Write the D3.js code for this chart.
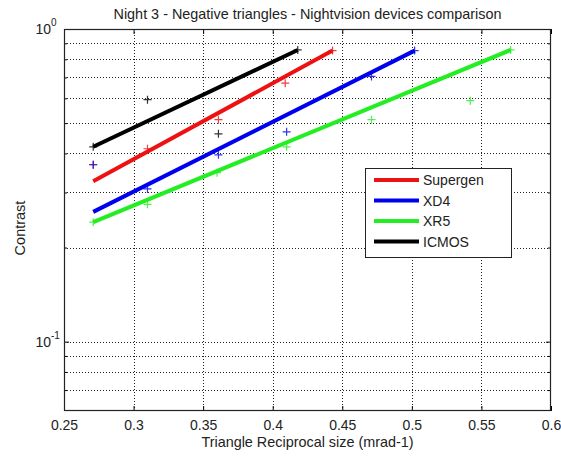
<!DOCTYPE html>
<html>
<head>
<meta charset="utf-8">
<script src="https://cdn.jsdelivr.net/npm/d3@7"></script>
<style>
  body { margin: 0; background: #fff; }
  svg { display: block; font-family: "Liberation Sans", Arial, sans-serif; }
</style>
</head>
<body>
<div id="main-container"></div>
<script>
const WIDTH = 561;
const HEIGHT = 457;
const LEFT = 64, RIGHT = 551, TOP = 29, BOTTOM = 411;
const TITLE = 'Night 3 - Negative triangles - Nightvision devices comparison';
const X_LABEL = 'Triangle Reciprocal size (mrad-1)';
const Y_LABEL = 'Contrast';

// tick values
const X_TICKS = [0.25, 0.3, 0.35, 0.4, 0.45, 0.5, 0.55, 0.6];
const X_TICK_LABELS = ['0.25', '0.3', '0.35', '0.4', '0.45', '0.5', '0.55', '0.6'];
const Y_MAJOR = [0.1, 1];
const Y_MINOR = [0.07, 0.08, 0.09, 0.2, 0.3, 0.4, 0.5, 0.6, 0.7, 0.8, 0.9];

// series
const SERIES = ['Supergen', 'XD4', 'XR5', 'ICMOS'];
const COLORS = ['#ee1111', '#0000ee', '#22ee22', '#000000'];

// fitted lines: [x, contrast] start and end
const SUPERGEN_FIT = [[0.271, 0.326], [0.443, 0.853]];
const XD4_FIT = [[0.271, 0.260], [0.502, 0.853]];
const XR5_FIT = [[0.271, 0.241], [0.571, 0.857]];
const ICMOS_FIT = [[0.271, 0.420], [0.418, 0.857]];

// measured points
const SUPERGEN_PTS = [[0.271, 0.368], [0.31, 0.414], [0.361, 0.513], [0.409, 0.671], [0.443, 0.853]];
const XD4_PTS = [[0.271, 0.368], [0.31, 0.308], [0.361, 0.396], [0.41, 0.469], [0.471, 0.705], [0.502, 0.853]];
const XR5_PTS = [[0.271, 0.241], [0.31, 0.275], [0.36, 0.347], [0.41, 0.420], [0.471, 0.513], [0.542, 0.590], [0.571, 0.857]];
const ICMOS_PTS = [[0.271, 0.420], [0.31, 0.594], [0.361, 0.462], [0.418, 0.857]];

const FITS = [SUPERGEN_FIT, XD4_FIT, XR5_FIT, ICMOS_FIT];
const POINTS = [SUPERGEN_PTS, XD4_PTS, XR5_PTS, ICMOS_PTS];

const X_SCALE = d3.scaleLinear().domain([0.25, 0.6]).range([LEFT, RIGHT]);
const Y_SCALE = d3.scaleLog().domain([0.06, 1]).range([BOTTOM, TOP]);

const SVG = d3.select('#main-container')
    .append('svg')
    .attr('width', WIDTH)
    .attr('height', HEIGHT);

// plot background
SVG.append('rect')
    .attr('x', LEFT).attr('y', TOP)
    .attr('width', RIGHT - LEFT).attr('height', BOTTOM - TOP)
    .attr('fill', '#fff');

// grid
const GRID = SVG.append('g')
    .attr('stroke', '#222')
    .attr('stroke-width', 1)
    .attr('stroke-dasharray', '1,2');

GRID.selectAll('line.gx')
    .data(X_TICKS.slice(1, -1))
    .enter()
    .append('line')
    .attr('x1', d => Math.round(X_SCALE(d)) + 0.5)
    .attr('x2', d => Math.round(X_SCALE(d)) + 0.5)
    .attr('y1', TOP)
    .attr('y2', BOTTOM);

GRID.selectAll('line.gy')
    .data(Y_MAJOR.concat(Y_MINOR).filter(d => d < 1))
    .enter()
    .append('line')
    .attr('x1', LEFT)
    .attr('x2', RIGHT)
    .attr('y1', d => Math.round(Y_SCALE(d)) + 0.5)
    .attr('y2', d => Math.round(Y_SCALE(d)) + 0.5);

// x axes (bottom + top), ticks inside
const X_AXIS = d3.axisBottom(X_SCALE)
    .tickValues(X_TICKS)
    .tickFormat((d, i) => X_TICK_LABELS[i])
    .tickSize(-5)
    .tickPadding(9);

const xg = SVG.append('g')
    .attr('transform', `translate(0, ${BOTTOM})`)
    .call(X_AXIS);
xg.select('.domain').remove();
xg.selectAll('text').style('font-size', '14px').attr('fill', '#222');

const xgTop = SVG.append('g')
    .attr('transform', `translate(0, ${TOP})`)
    .call(d3.axisTop(X_SCALE).tickValues(X_TICKS).tickSize(-5).tickFormat(''));
xgTop.select('.domain').remove();

// y axes (left + right), major and minor ticks
const addY = (side, values, size) => {
    const axis = (side === 'left' ? d3.axisLeft(Y_SCALE) : d3.axisRight(Y_SCALE))
        .tickValues(values)
        .tickSize(-size)
        .tickFormat('');
    const g = SVG.append('g')
        .attr('transform', `translate(${side === 'left' ? LEFT : RIGHT}, 0)`)
        .call(axis);
    g.select('.domain').remove();
    return g;
};
addY('left', Y_MAJOR, 5);
addY('right', Y_MAJOR, 5);
addY('left', Y_MINOR, 3);
addY('right', Y_MINOR, 3);

// y tick labels as 10^n
const YL = SVG.append('g').attr('fill', '#222');
Y_MAJOR.forEach(v => {
    const yy = Y_SCALE(v);
    YL.append('text')
        .attr('x', 51)
        .attr('y', yy + 5)
        .attr('text-anchor', 'end')
        .style('font-size', '14px')
        .text('10');
    YL.append('text')
        .attr('x', 51)
        .attr('y', yy - 3)
        .style('font-size', '10px')
        .text(String(Math.round(Math.log10(v))));
});

// box
SVG.append('rect')
    .attr('x', LEFT + 0.5).attr('y', TOP + 0.5)
    .attr('width', RIGHT - LEFT - 1).attr('height', BOTTOM - TOP - 1)
    .attr('fill', 'none')
    .attr('stroke', '#222')
    .attr('stroke-width', 1.2);

// fitted lines
const LINE = d3.line()
    .x(d => X_SCALE(d[0]))
    .y(d => Y_SCALE(d[1]));

SVG.append('g')
    .selectAll('path')
    .data(FITS)
    .enter()
    .append('path')
    .attr('d', LINE)
    .attr('fill', 'none')
    .attr('stroke', (_, i) => COLORS[i])
    .attr('stroke-width', 4);

// '+' markers
const MARK = 4;
POINTS.forEach((pts, i) => {
    const g = SVG.append('g')
        .attr('stroke', COLORS[i])
        .attr('stroke-width', 1.2)
        .attr('opacity', 0.8);
    g.selectAll('path')
        .data(pts)
        .enter()
        .append('path')
        .attr('d', d => {
            const cx = X_SCALE(d[0]), cy = Y_SCALE(d[1]);
            return `M${cx - MARK},${cy}H${cx + MARK}M${cx},${cy - MARK}V${cy + MARK}`;
        });
});

// legend
const LEGEND = SVG.append('g').attr('transform', 'translate(365, 168)');
LEGEND.append('rect')
    .attr('x', 0.5).attr('y', 0.5)
    .attr('width', 146).attr('height', 89)
    .attr('fill', '#fff')
    .attr('stroke', '#222');

const rows = LEGEND.selectAll('g.row')
    .data(SERIES)
    .enter()
    .append('g')
    .attr('transform', (_, i) => `translate(0, ${12 + i * 20.5})`);
rows.append('line')
    .attr('x1', 9).attr('x2', 54)
    .attr('stroke', (_, i) => COLORS[i])
    .attr('stroke-width', 4);
rows.append('text')
    .attr('x', 58)
    .attr('y', 5)
    .style('font-size', '14px')
    .attr('fill', '#222')
    .text(d => d);

// title
SVG.append('text')
    .attr('x', (LEFT + RIGHT) / 2)
    .attr('y', 19)
    .attr('text-anchor', 'middle')
    .style('font-size', '14.4px')
    .attr('fill', '#222')
    .text(TITLE);

// axis labels
SVG.append('text')
    .attr('x', (LEFT + RIGHT) / 2)
    .attr('y', 447)
    .attr('text-anchor', 'middle')
    .style('font-size', '14.4px')
    .attr('fill', '#222')
    .text(X_LABEL);

SVG.append('text')
    .attr('transform', `translate(25, ${(TOP + BOTTOM) / 2 + 8}) rotate(-90)`)
    .attr('text-anchor', 'middle')
    .style('font-size', '14.5px')
    .attr('fill', '#222')
    .text(Y_LABEL);
</script>
</body>
</html>
